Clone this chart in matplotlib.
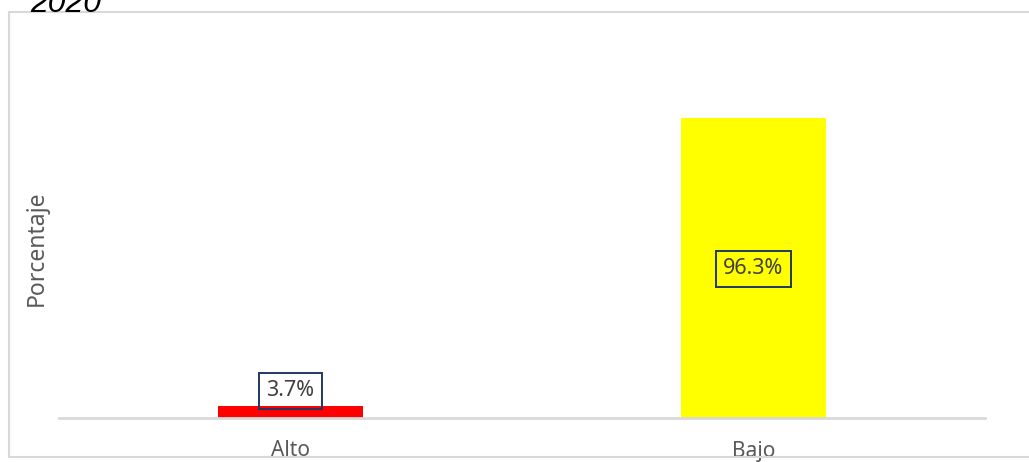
import matplotlib
matplotlib.use("Agg")
import matplotlib.pyplot as plt

categories = ["Alto", "Bajo"]
values = [3.7, 96.3]
bar_colors = ["#FF0000", "#FFFF00"]
labels = ["3.7%", "96.3%"]
title = "2020"
ylabel = "Porcentaje"

W, H = 1029, 462
fig = plt.figure(figsize=(W / 100, H / 100), dpi=100)
plt.rcParams['font.family'] = ['Noto Sans', 'DejaVu Sans']

# axes: x 59..985, baseline y 418, scale so 96.3 -> y 118
y0 = 418
px_per_unit = (418 - 118) / 96.3
ymax = 120
top = y0 - ymax * px_per_unit
ax = fig.add_axes([59 / W, 1 - y0 / H, (985 - 59) / W, (y0 - top) / H])
x = list(range(len(categories)))
ax.bar(x, values, width=0.315, color=bar_colors, zorder=2)
ax.set_xlim(-0.5, 1.5)
ax.set_ylim(0, ymax)
for s in ["top", "right", "left"]:
    ax.spines[s].set_visible(False)
ax.spines["bottom"].set_color("#D9D9D9")
ax.spines["bottom"].set_linewidth(2)
ax.set_yticks([])
ax.set_xticks([])

# category labels
for xi, c, off in zip(x, categories, [450, 452]):
    ax.annotate(c, xy=(xi, 0), xycoords=("data", "axes fraction"),
                xytext=(0, -(off - y0)), textcoords="offset pixels",
                ha="center", va="center", fontsize=15, color="#595959")

# data labels
bbox = dict(boxstyle="square,pad=0.33", fc="none", ec="#1F3864", lw=1.4)
ax.text(x[0], (y0 - 391) / px_per_unit, labels[0], ha="center", va="center",
        fontsize=15.5, color="#404040", bbox=bbox, zorder=3)
ax.text(x[1], (y0 - 269) / px_per_unit, labels[1], ha="center", va="center",
        fontsize=15.5, color="#404040", bbox=bbox, zorder=3)

fig.text(37 / W, 1 - 248 / H, ylabel, rotation=90, ha="center", va="center",
         fontsize=16.5, color="#595959")

fig.text(30 / W, 1 - 12.5 / H, title, ha="left", va="baseline", fontsize=23,
         style="italic", color="black", family=["Liberation Sans", "DejaVu Sans"])

# chart border (top, left, bottom)
fig.add_artist(plt.Line2D([8.5 / W, 1.0], [1 - 11.5 / H, 1 - 11.5 / H],
                          transform=fig.transFigure, color="#D9D9D9", lw=1.5))
fig.add_artist(plt.Line2D([8.5 / W, 8.5 / W], [1 - 11.5 / H, 1 - 456.5 / H],
                          transform=fig.transFigure, color="#D9D9D9", lw=1.5))
fig.add_artist(plt.Line2D([8.5 / W, 1.0], [1 - 456.5 / H, 1 - 456.5 / H],
                          transform=fig.transFigure, color="#D9D9D9", lw=1.5))

fig.savefig("out.png", dpi=100)
